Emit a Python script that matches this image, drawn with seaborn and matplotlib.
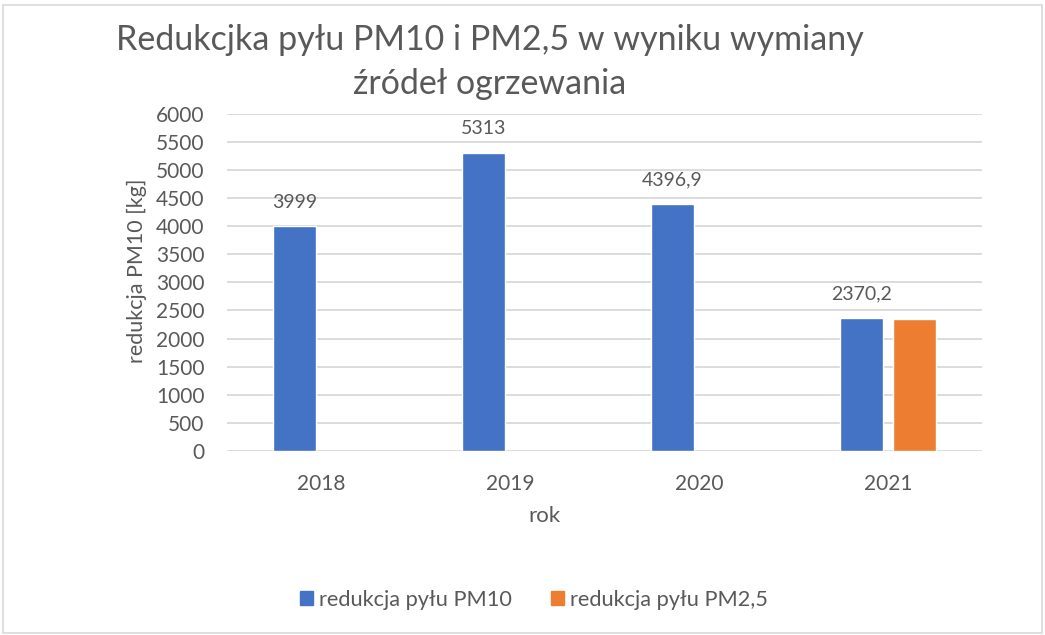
import pandas as pd
import seaborn as sns
import matplotlib.pyplot as plt
from matplotlib.patches import Rectangle

# data
years = ['2018', '2019', '2020', '2021']
pm10 = [3999, 5313, 4396.9, 2370.2]
pm25_years = ['2021']
pm25 = [2352]
series = ['redukcja pyłu PM10', 'redukcja pyłu PM2,5']
colors = ['#4472C4', '#ED7D31']

df = pd.DataFrame({'rok': years + pm25_years,
                   'val': pm10 + pm25,
                   'seria': [series[0]] * len(years) + [series[1]] * len(pm25_years)})

sns.set_style('white')
plt.rcParams['font.family'] = ['Lato', 'DejaVu Sans']
txt = '#595959'

fig = plt.figure(figsize=(10.45, 6.35), dpi=100)
ax = fig.add_axes([0.217, 0.29, 0.723, 0.5305])

sns.barplot(data=df, x='rok', y='val', hue='seria', order=years, hue_order=series,
            palette=colors, width=0.56, gap=0.19, errorbar=None, ax=ax, saturation=1)

# labels only on PM10 bars
labels = [('%g' % v).replace('.', ',') for v in pm10]
ax.bar_label(ax.containers[0], labels=labels, padding=11, fontsize=14, color=txt)

ax.set_ylim(0, 6000)
ax.set_yticks(range(0, 6001, 500))
ax.grid(axis='y', color='#d9d9d9', linewidth=1.3)
ax.set_axisbelow(True)
for s in ax.spines.values():
    s.set_visible(False)
ax.tick_params(axis='both', length=0, labelsize=15, labelcolor=txt)
ax.tick_params(axis='x', pad=17)
ax.tick_params(axis='y', pad=16)
ax.set_xlabel('rok', fontsize=16, color=txt)
ax.set_ylabel('redukcja PM10 [kg]', fontsize=15.5, color=txt)
ax.xaxis.set_label_coords(0.42, -0.165)
ax.yaxis.set_label_coords(-0.106, 0.534)

ax.legend_.remove()
handles = [Rectangle((0, 0), 1, 1, color=c) for c in colors]
fig.legend(handles, series, loc='center', bbox_to_anchor=(0.511, 0.055), ncol=2,
           frameon=False, fontsize=15.7, labelcolor=txt, handlelength=0.6,
           handleheight=0.6, handletextpad=0.25, columnspacing=1.8)

fig.text(0.469, 0.962, 'Redukcjka pyłu PM10 i PM2,5 w wyniku wymiany\nźródeł ogrzewania',
         ha='center', va='top', fontsize=24.5, color=txt, linespacing=1.45)

fig.patches.append(Rectangle((0.003, 0.003), 0.994, 0.989, transform=fig.transFigure,
                             fill=False, edgecolor='#d9d9d9', linewidth=1.2))

fig.savefig('out.png', dpi=100)
